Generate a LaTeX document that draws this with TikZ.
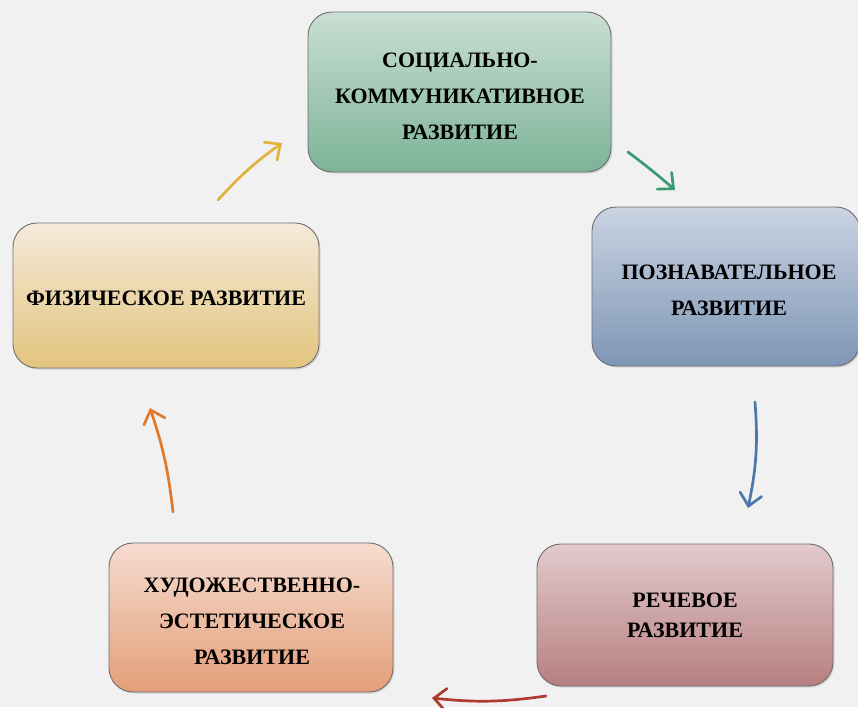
\documentclass[tikz,border=0pt]{standalone}
\usepackage{fontspec}
\setmainfont{Liberation Serif}
\usetikzlibrary{arrows.meta,shadows}
\definecolor{bg}{HTML}{F1F1F1}
\definecolor{edge}{HTML}{6E6E6E}
\definecolor{gT}{HTML}{C9DFD3}\definecolor{gB}{HTML}{7DB398}
\definecolor{bT}{HTML}{CAD4E2}\definecolor{bB}{HTML}{7E96B6}
\definecolor{yT}{HTML}{F5EADA}\definecolor{yB}{HTML}{E3C47E}
\definecolor{rT}{HTML}{E3CACD}\definecolor{rB}{HTML}{B77F7F}
\definecolor{sT}{HTML}{F6DCD0}\definecolor{sB}{HTML}{E39E78}
\definecolor{aG}{HTML}{3A9A72}\definecolor{aB}{HTML}{4A78AA}
\definecolor{aR}{HTML}{AE3A30}\definecolor{aO}{HTML}{E07A2A}
\definecolor{aY}{HTML}{E2B23E}
\tikzset{
  box/.style={draw=edge, line width=0.9pt, rounded corners=24pt, shading=axis,
    inner sep=0pt,
    drop shadow={shadow xshift=1.5pt, shadow yshift=-1.5pt, opacity=0.25}},
  lbl/.style={align=center, inner sep=0pt, font=\bfseries\fontsize{22}{36}\selectfont},
  arr/.style={line width=2.7pt, line cap=round, -{Straight Barb[length=12pt,width=22pt,line cap=round]}}
}
\begin{document}
\begin{tikzpicture}[x=1pt,y=-1pt]
\fill[bg] (0,0) rectangle (858,707);
\useasboundingbox (0,0) rectangle (858,707);
\node[box, top color=gT, bottom color=gB, minimum width=303pt, minimum height=160pt] (soc) at (459.5,92) {};
\node[lbl] (soct) at (460,96) {СОЦИАЛЬНО-\\КОММУНИКАТИВНОЕ\\РАЗВИТИЕ};
\node[box, top color=bT, bottom color=bB, minimum width=268pt, minimum height=159pt] (poz) at (726,286.5) {};
\node[lbl] (pozt) at (729,290.5) {ПОЗНАВАТЕЛЬНОЕ\\РАЗВИТИЕ};
\node[box, top color=rT, bottom color=rB, minimum width=296pt, minimum height=142pt] (rech) at (685,615) {};
\node[lbl, font=\bfseries\fontsize{22}{30}\selectfont] (recht) at (685,615) {РЕЧЕВОЕ\\РАЗВИТИЕ};
\node[box, top color=sT, bottom color=sB, minimum width=284pt, minimum height=149pt] (hud) at (251,617.5) {};
\node[lbl] (hudt) at (252,621.5) {ХУДОЖЕСТВЕННО-\\ЭСТЕТИЧЕСКОЕ\\РАЗВИТИЕ};
\node[box, top color=yT, bottom color=yB, minimum width=306pt, minimum height=145pt] (fiz) at (166,295.5) {};
\node[lbl] (fizt) at (166,298.5) {ФИЗИЧЕСКОЕ РАЗВИТИЕ};
\coordinate (g1) at (628,152); \coordinate (g2) at (675,190);
\coordinate (b1) at (755,402); \coordinate (b2) at (748,508);
\coordinate (r1) at (546,696); \coordinate (r2) at (432,698);
\coordinate (o1) at (173,512); \coordinate (o2) at (150,408);
\coordinate (y1) at (218,200); \coordinate (y2) at (282,143);
\draw[arr, aG] (g1) to[bend left=2] (g2);
\draw[arr, aB] (b1) to[bend left=8] (b2);
\draw[arr, aR] (r1) to[bend left=7] (r2);
\draw[arr, aO] (o1) to[bend right=6] (o2);
\draw[arr, aY] (y1) to[bend left=6] (y2);
\end{tikzpicture}
\end{document}
